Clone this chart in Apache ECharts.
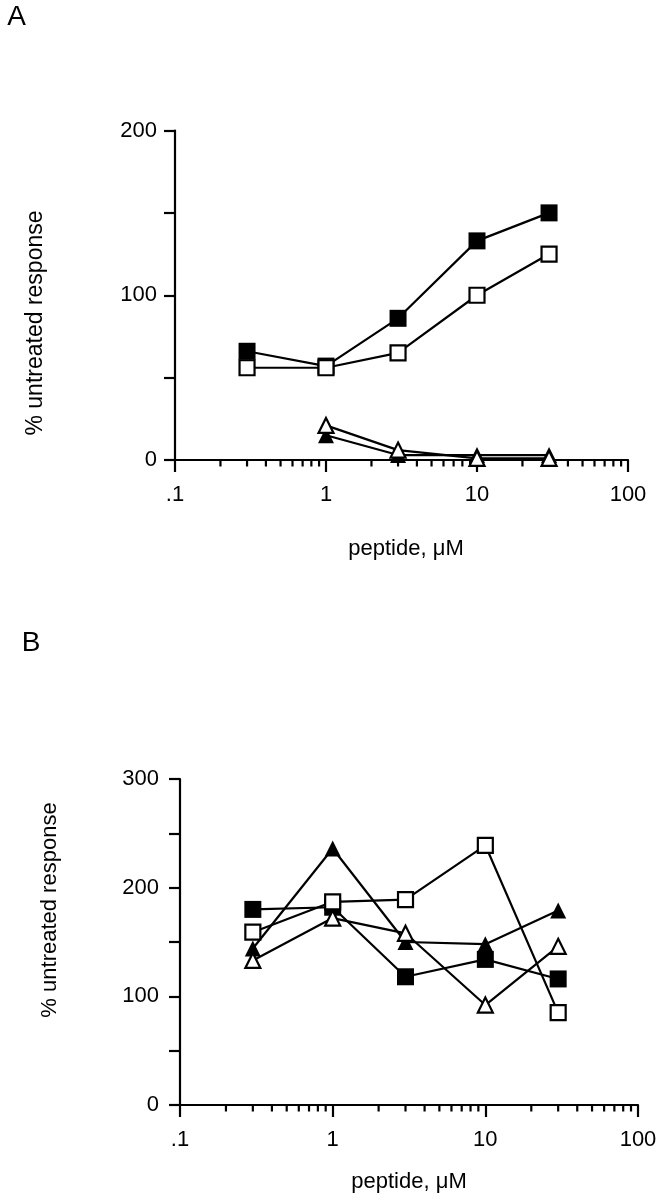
<!DOCTYPE html>
<html>
<head>
<meta charset="utf-8">
<script src="https://cdn.jsdelivr.net/npm/echarts@6/dist/echarts.min.js"></script>
<style>html,body{margin:0;padding:0;background:#fff;}#c{width:660px;height:1200px;}</style>
</head>
<body>
<div id="c"></div>
<script>
// ---- data ----
const doses = [0.3, 1, 3, 10, 30];               // peptide, µM
const xMajorLabels = {'0.1': '.1', '1': '1', '10': '10', '100': '100'};
const xMinorTicks = [0.2,0.3,0.4,0.5,0.6,0.7,0.8,0.9,2,3,4,5,6,7,8,9,20,30,40,50,60,70,80,90];
const yLabelsA = [0, 100, 200];
const yLabelsB = [0, 100, 200, 300];

// Panel A
const aFilledSquare = [66, 57, 86, 133, 150];
const aOpenSquare   = [56, 56, 65, 100, 125];
const aFilledTri    = [null, 15, 3, 3, 3];
const aOpenTri      = [null, 21, 6, 1, 1];

// Panel B
const bFilledSquare = [180, 182, 118, 134, 116];
const bOpenSquare   = [159, 187, 189, 239, 85];
const bFilledTri    = [144, 236, 150, 148, 179];
const bOpenTri      = [133, 172, 158, 92, 146];

// ---- helpers ----
const FONT = '"Liberation Sans", Arial, Helvetica, sans-serif';
const pairs = arr => doses.map((d, i) => arr[i] == null ? null : [d, arr[i]]).filter(p => p);

function xAxisFor(gi) {
  return {
    type: 'log', logBase: 10, gridIndex: gi, min: 0.1, max: 100,
    axisLine: {show: true, lineStyle: {color: '#000', width: 2.2}},
    axisTick: {show: true, inside: false, length: 12, lineStyle: {color: '#000', width: 2.2}},
    axisLabel: {
      color: '#000', fontSize: 22, fontFamily: FONT, margin: 24,
      formatter: v => {
        for (const k in xMajorLabels) if (Math.abs(v - Number(k)) < 1e-9 * Math.max(1, v)) return xMajorLabels[k];
        return '';
      }
    },
    splitLine: {show: false}, minorTick: {show: false}
  };
}
function yAxisFor(gi, max, labels, margin) {
  return {
    type: 'value', gridIndex: gi, min: 0, max: max, interval: 50,
    axisLine: {show: true, lineStyle: {color: '#000', width: 2.2}},
    axisTick: {show: true, inside: false, length: 11, lineStyle: {color: '#000', width: 2.2}},
    axisLabel: {
      color: '#000', fontSize: 22, fontFamily: FONT, margin: margin,
      formatter: v => labels.indexOf(v) >= 0 ? String(v) : ''
    },
    splitLine: {show: false}
  };
}
function lineSeries(gi, arr, symbol, filled) {
  return {
    type: 'line', xAxisIndex: gi, yAxisIndex: gi, data: pairs(arr),
    symbol: symbol, symbolSize: symbol === 'rect' ? (filled ? 17 : 15) : (filled ? 16 : 15),
    showAllSymbol: true, animation: false, z: 3,
    lineStyle: {color: '#000', width: 2.2},
    itemStyle: filled ? {color: '#000', borderColor: '#000', borderWidth: 0}
                      : {color: '#fff', borderColor: '#000', borderWidth: 2.2}
  };
}
function minorTickSeries(gi) {
  return {
    type: 'custom', xAxisIndex: gi, yAxisIndex: gi, clip: false, silent: true, animation: false, z: 2,
    data: xMinorTicks.map(v => [v, 0]),
    encode: {x: 0, y: 1},
    renderItem: (params, api) => {
      const p = api.coord([api.value(0), 0]);
      return {type: 'line', shape: {x1: p[0], y1: p[1], x2: p[0], y2: p[1] + 6.5},
              style: {stroke: '#000', lineWidth: 2.2}};
    }
  };
}

const chart = echarts.init(document.getElementById('c'), null, {renderer: 'canvas'});
chart.setOption({
  backgroundColor: '#fff',
  animation: false,
  grid: [
    {left: 175, top: 130.5, width: 453, height: 329.5},
    {left: 180, top: 779, width: 458, height: 326}
  ],
  xAxis: [xAxisFor(0), xAxisFor(1)],
  yAxis: [yAxisFor(0, 200, yLabelsA, 18), yAxisFor(1, 300, yLabelsB, 21)],
  series: [
    minorTickSeries(0), minorTickSeries(1),
    lineSeries(0, aFilledSquare, 'rect', true),
    lineSeries(0, aOpenSquare, 'rect', false),
    lineSeries(0, aFilledTri, 'triangle', true),
    lineSeries(0, aOpenTri, 'triangle', false),
    lineSeries(1, bFilledSquare, 'rect', true),
    lineSeries(1, bOpenSquare, 'rect', false),
    lineSeries(1, bFilledTri, 'triangle', true),
    lineSeries(1, bOpenTri, 'triangle', false)
  ],
  graphic: [
    {type: 'text', x: 16.5, y: 17, style: {text: 'A', font: '28px ' + FONT, fill: '#000', align: 'center', verticalAlign: 'middle'}},
    {type: 'text', x: 31, y: 643, style: {text: 'B', font: '28px ' + FONT, fill: '#000', align: 'center', verticalAlign: 'middle'}},
    {type: 'text', x: 36, y: 323, rotation: Math.PI / 2, style: {text: '% untreated response', font: '23px ' + FONT, fill: '#000', align: 'center', verticalAlign: 'middle'}},
    {type: 'text', x: 50, y: 910, rotation: Math.PI / 2, style: {text: '% untreated response', font: '22px ' + FONT, fill: '#000', align: 'center', verticalAlign: 'middle'}},
    {type: 'text', x: 406, y: 549, style: {text: 'peptide, \u03bcM', font: '22px ' + FONT, fill: '#000', align: 'center', verticalAlign: 'middle'}},
    {type: 'text', x: 409, y: 1182, style: {text: 'peptide, \u03bcM', font: '22px ' + FONT, fill: '#000', align: 'center', verticalAlign: 'middle'}}
  ]
});
</script>
</body>
</html>
